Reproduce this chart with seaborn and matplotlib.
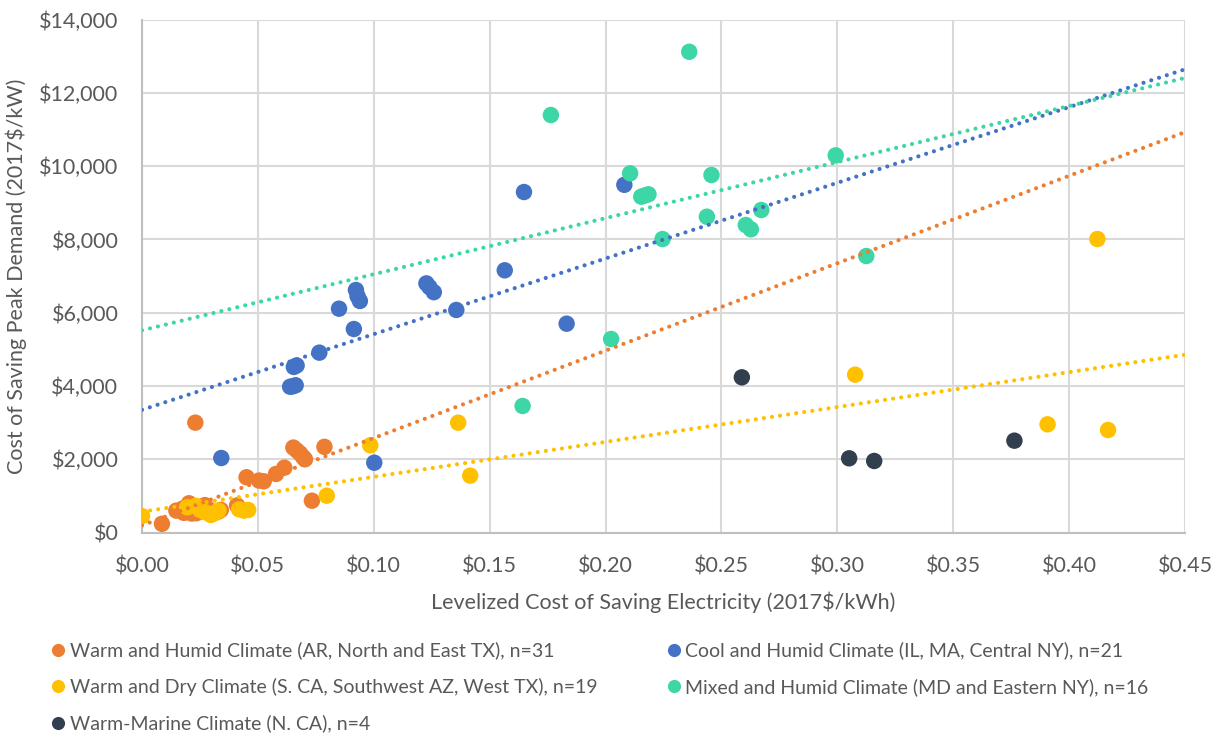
import numpy as np
import pandas as pd
import matplotlib
matplotlib.use("Agg")
import matplotlib.pyplot as plt
import seaborn as sns
from matplotlib.ticker import FuncFormatter, MultipleLocator

# Levelized cost of saving electricity ($/kWh) and cost of saving peak demand ($/kW)
warm_humid_x = [0.0086, 0.0148, 0.0177, 0.0180, 0.0195, 0.0200, 0.0203, 0.0215, 0.0230, 0.0235,
                0.0250, 0.0265, 0.0271, 0.0285, 0.0300, 0.0328, 0.0340, 0.0410, 0.0420, 0.0451,
                0.0505, 0.0525, 0.0578, 0.0614, 0.0653, 0.0668, 0.0682, 0.0695, 0.0703, 0.0733,
                0.0787]
warm_humid_y = [240, 600, 660, 540, 560, 640, 800, 520, 3000, 530,
                700, 590, 750, 640, 560, 570, 620, 740, 650, 1510,
                1420, 1400, 1600, 1770, 2320, 2240, 2160, 2060, 2000, 870,
                2340]

cool_humid_x = [0.0342, 0.0639, 0.0650, 0.0663, 0.0655, 0.0667, 0.0765, 0.0850, 0.0914, 0.0923,
                0.0930, 0.0940, 0.1002, 0.1227, 0.1240, 0.1259, 0.1356, 0.1565, 0.1648, 0.1832,
                0.2081]
cool_humid_y = [2035, 3980, 3990, 4020, 4520, 4560, 4910, 6110, 5555, 6620,
                6450, 6320, 1907, 6800, 6700, 6560, 6075, 7157, 9293, 5700,
                9490]

warm_dry_x = [0.0000, 0.0195, 0.0232, 0.0250, 0.0270, 0.0297, 0.0314, 0.0330, 0.0419, 0.0440,
              0.0458, 0.0797, 0.0985, 0.1364, 0.1416, 0.3077, 0.3907, 0.4122, 0.4168]
warm_dry_y = [450, 690, 730, 620, 560, 480, 530, 600, 635, 600,
              617, 1007, 2382, 2999, 1553, 4309, 2955, 8011, 2799]

mixed_humid_x = [0.1642, 0.1764, 0.2024, 0.2106, 0.2154, 0.2170, 0.2185, 0.2246, 0.2361, 0.2437,
                 0.2457, 0.2605, 0.2627, 0.2672, 0.2993, 0.3125]
mixed_humid_y = [3455, 11394, 5283, 9803, 9166, 9200, 9231, 8010, 13120, 8619,
                 9757, 8393, 8276, 8802, 10294, 7547]

warm_marine_x = [0.2588, 0.3051, 0.3159, 0.3764]
warm_marine_y = [4237, 2027, 1954, 2508]

climates = [
    "Warm and Humid Climate (AR, North and East TX), n=31",
    "Cool and Humid Climate (IL, MA, Central NY), n=21",
    "Warm and Dry Climate (S. CA, Southwest AZ, West TX), n=19",
    "Mixed and Humid Climate (MD and Eastern NY), n=16",
    "Warm-Marine Climate (N. CA), n=4",
]
series_x = [warm_humid_x, cool_humid_x, warm_dry_x, mixed_humid_x, warm_marine_x]
series_y = [warm_humid_y, cool_humid_y, warm_dry_y, mixed_humid_y, warm_marine_y]

# Linear trendlines (intercept, slope) for the four larger groups
trend_intercept = [195, 3350, 570, 5520, None]
trend_slope = [23850, 20650, 9520, 15300, None]

colors = ["#ED7D31", "#4472C4", "#FFC000", "#3DD6A6", "#323F4F"]
text_color = "#595959"

df = pd.concat(
    [pd.DataFrame({"lcse": x, "peak": y, "climate": c})
     for x, y, c in zip(series_x, series_y, climates)],
    ignore_index=True,
)

sns.set_theme(style="whitegrid")
plt.rcParams["font.family"] = ["Lato", "DejaVu Sans"]

fig = plt.figure(figsize=(12.17, 7.34), dpi=100)
ax = fig.add_axes([0.1167, 0.2744, 0.857, 0.699])

sns.scatterplot(data=df, x="lcse", y="peak", hue="climate", hue_order=climates,
                palette=colors, s=140, edgecolor="none", alpha=1.0, ax=ax, zorder=3,
                legend=True)

xmin, xmax = 0.0, 0.45
for b, m, c in zip(trend_intercept, trend_slope, colors):
    if b is None:
        continue
    xs = np.array([xmin, xmax])
    line_df = pd.DataFrame({"x": xs, "y": b + m * xs})
    sns.lineplot(data=line_df, x="x", y="y", color=c, lw=3.0, ax=ax, zorder=4,
                 linestyle=(0, (0.01, 1.95)), dash_capstyle="round", legend=False)

ax.set_xlim(xmin, xmax)
ax.set_ylim(0, 14000)
ax.xaxis.set_major_locator(MultipleLocator(0.05))
ax.yaxis.set_major_locator(MultipleLocator(2000))
ax.xaxis.set_major_formatter(FuncFormatter(lambda v, p: f"${v:.2f}"))
ax.yaxis.set_major_formatter(FuncFormatter(lambda v, p: f"${v:,.0f}"))

ax.grid(True, color="#D9D9D9", linewidth=1.5)
ax.set_axisbelow(True)
for side in ["top", "right"]:
    ax.spines[side].set_visible(False)
for side in ["left", "bottom"]:
    ax.spines[side].set_color("#BFBFBF")
    ax.spines[side].set_linewidth(1.5)

ax.tick_params(axis="x", labelsize=15.5, colors=text_color, length=0, pad=17)
ax.tick_params(axis="y", labelsize=15.5, colors=text_color, length=0, pad=17)
ax.set_xlabel("Levelized Cost of Saving Electricity (2017$/kWh)", fontsize=15.5,
              color=text_color, labelpad=11)
ax.set_ylabel("Cost of Saving Peak Demand (2017$/kW)", fontsize=15.5,
              color=text_color, labelpad=9)

handles, labels = ax.get_legend_handles_labels()
ax.get_legend().remove()
order = [0, 2, 4, 1, 3]
leg = fig.legend([handles[i] for i in order], [labels[i] for i in order],
                 loc="upper left", bbox_to_anchor=(0.032, 1 - 628 / 734),
                 ncol=2, frameon=False, fontsize=14.0, labelcolor=text_color,
                 handlelength=0.6, handletextpad=0.3, columnspacing=3.6,
                 labelspacing=0.95, markerscale=0.8, borderpad=0.2)

fig.savefig("out.png", dpi=100)
